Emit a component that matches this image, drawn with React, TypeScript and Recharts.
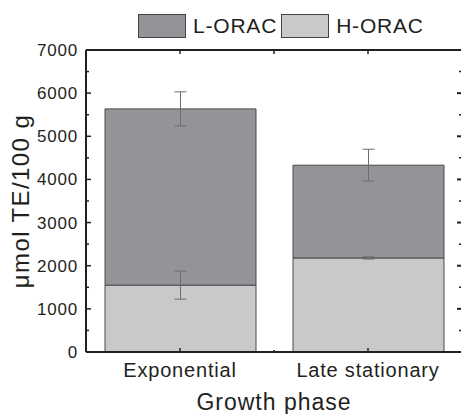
import { BarChart, Bar, XAxis, YAxis, ErrorBar, Legend, Label } from 'recharts';

const categories = ['Exponential', 'Late stationary'];
const hOrac = [1550, 2180];
const hOracErr = [325, 25];
const lOrac = [4085, 2150];
const lOracErr = [395, 370];
const yTicks = [0, 500, 1000, 1500, 2000, 2500, 3000, 3500, 4000, 4500, 5000, 5500, 6000, 6500, 7000];
const xFrameTicks = [0.5, 1, 1.5];

const series = [
  { key: 'l', name: 'L-ORAC', color: '#939497' },
  { key: 'h', name: 'H-ORAC', color: '#c8c9cb' },
];

const data = categories.map((phase, i) => ({
  phase,
  slot: i + 0.5,
  h: hOrac[i],
  hErr: hOracErr[i],
  l: lOrac[i],
  lErr: lOracErr[i],
}));

const AXIS = '#231f20';
const FONT = '"Liberation Sans", Arial, sans-serif';

const LeftTick = ({ x, y, payload }: any) => {
  const v = payload.value;
  const major = v % 1000 === 0;
  const ax = Number(x) + 8;
  return (
    <g>
      <line x1={ax} x2={ax + (major ? 5 : 3)} y1={y} y2={y} stroke={AXIS} strokeWidth={1.5} />
      {major && (
        <text x={x} y={y} dy={6} textAnchor="end" fontSize={17} letterSpacing={0.8} fill="#231f20" fontFamily={FONT}>
          {v}
        </text>
      )}
    </g>
  );
};

const RightTick = ({ x, y, payload }: any) => {
  const major = payload.value % 1000 === 0;
  return <line x1={Number(x) - (major ? 5 : 3)} x2={x} y1={y} y2={y} stroke={AXIS} strokeWidth={major ? 2 : 1.5} />;
};

const TopTick = ({ x, y }: any) => (
  <line x1={x} x2={x} y1={y} y2={Number(y) + 4} stroke={AXIS} strokeWidth={1.5} />
);

const BottomTick = ({ x, y, payload }: any) => {
  const v = payload.value;
  const idx = v - 0.5;
  const major = Number.isInteger(idx);
  return (
    <g>
      <line x1={x} x2={x} y1={Number(y) - (major ? 4 : 2)} y2={y} stroke={AXIS} strokeWidth={1.5} />
      {major && (
        <text x={x} y={y} dy={25} textAnchor="middle" fontSize={20} letterSpacing={0.8} fill="#231f20" fontFamily={FONT}>
          {categories[idx]}
        </text>
      )}
    </g>
  );
};

const LegendContent = () => (
  <div style={{ display: 'flex', alignItems: 'center', height: 24, fontFamily: FONT, fontSize: 21, letterSpacing: 0.8, color: '#231f20' }}>
    {series.map((s) => (
      <div key={s.key} style={{ display: 'flex', alignItems: 'center', marginRight: 4 }}>
        <div style={{ width: 48, height: 24, background: s.color, border: '1px solid #444', boxSizing: 'border-box' }} />
        <span style={{ marginLeft: 7 }}>{s.name}</span>
      </div>
    ))}
  </div>
);

export default function App() {
  return (
    <div style={{ position: 'absolute', left: 0, top: 0, width: 461, height: 414, overflow: 'hidden', background: '#fff' }}>
      <BarChart
        width={463}
        height={414}
        data={data}
        margin={{ top: 25, right: 0, bottom: 0, left: 0 }}
        barSize={151}
        style={{ fontFamily: FONT }}
      >
        <Legend
          verticalAlign="top"
          height={24}
          content={<LegendContent />}
          wrapperStyle={{ top: 14, left: 138, width: 324 }}
        />
        <XAxis xAxisId="cat" dataKey="phase" type="category" hide />
        <XAxis
          xAxisId="bottom"
          dataKey="slot"
          type="number"
          scale="linear"
          domain={[0, 2]}
          allowDataOverflow
          ticks={xFrameTicks}
          interval={0}
          height={62}
          tickSize={0}
          tickMargin={0}
          tickLine={false}
          tick={<BottomTick />}
          axisLine={{ stroke: AXIS, strokeWidth: 2 }}
        >
          <Label value="Growth phase" position="insideBottom" offset={4} fontSize={23} letterSpacing={1} fill="#231f20" fontFamily={FONT} />
        </XAxis>
        <XAxis
          xAxisId="top"
          dataKey="slot"
          orientation="top"
          type="number"
          scale="linear"
          domain={[0, 2]}
          allowDataOverflow
          ticks={xFrameTicks}
          interval={0}
          height={1}
          tickSize={0}
          tickMargin={0}
          tickLine={false}
          tick={<TopTick />}
          axisLine={{ stroke: AXIS, strokeWidth: 2 }}
        />
        <YAxis
          yAxisId="left"
          domain={[0, 7000]}
          ticks={yTicks}
          interval={0}
          width={86}
          tickSize={0}
          tickMargin={8}
          tickLine={false}
          tick={<LeftTick />}
          axisLine={{ stroke: AXIS, strokeWidth: 2 }}
        >
          <Label
            value="μmol TE/100 g"
            angle={-90}
            position="insideLeft"
            offset={20}
            fontSize={24}
            letterSpacing={1.4}
            fill="#231f20"
            fontFamily={FONT}
            style={{ textAnchor: 'middle' }}
          />
        </YAxis>
        <YAxis
          yAxisId="right"
          dataKey="h"
          orientation="right"
          type="number"
          domain={[0, 7000]}
          allowDataOverflow
          ticks={yTicks}
          interval={0}
          width={1}
          tickSize={0}
          tickMargin={0}
          tickLine={false}
          tick={<RightTick />}
          axisLine={{ stroke: AXIS, strokeWidth: 2 }}
        />
        <Bar xAxisId="cat" yAxisId="left" dataKey="h" name="H-ORAC" stackId="a" fill="#c8c9cb" stroke="#4a4a4a" strokeWidth={1} isAnimationActive={false}>
          <ErrorBar dataKey="hErr" width={6} stroke="#6d6d6d" strokeWidth={1} direction="y" />
        </Bar>
        <Bar xAxisId="cat" yAxisId="left" dataKey="l" name="L-ORAC" stackId="a" fill="#939497" stroke="#4a4a4a" strokeWidth={1} isAnimationActive={false}>
          <ErrorBar dataKey="lErr" width={6} stroke="#6d6d6d" strokeWidth={1} direction="y" />
        </Bar>
      </BarChart>
    </div>
  );
}
